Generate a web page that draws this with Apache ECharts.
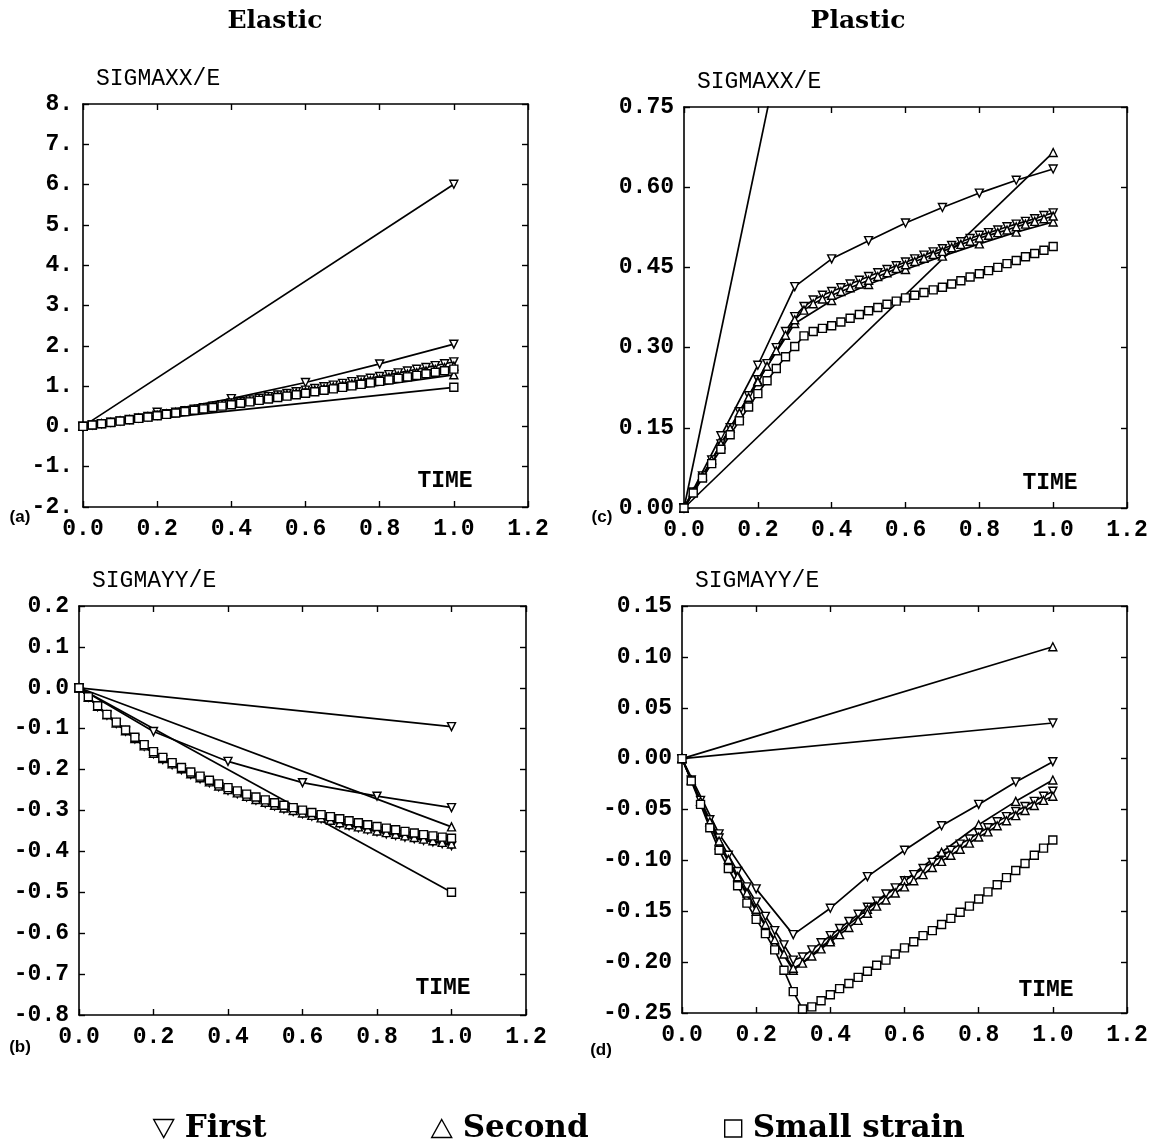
<!DOCTYPE html>
<html><head><meta charset="utf-8">
<script src="https://cdn.jsdelivr.net/npm/echarts@6/dist/echarts.min.js"></script>
<style>html,body{margin:0;padding:0;background:#fff}#c{width:1164px;height:1144px}</style>
</head><body><div id="c"></div>
<script>
// ---------- time grids (x values) ----------
const T_D = [0,0.025,0.05,0.075,0.1,0.125,0.15,0.175,0.2,0.225,0.25,0.275,0.3,0.325,0.35,0.375,0.4,0.425,0.45,0.475,0.5,0.525,0.55,0.575,0.6,0.625,0.65,0.675,0.7,0.725,0.75,0.775,0.8,0.825,0.85,0.875,0.9,0.925,0.95,0.975,1.0];
const T_01 = [0,0.1,0.2,0.3,0.4,0.5,0.6,0.7,0.8,0.9,1.0];
const T_02 = [0,0.2,0.4,0.6,0.8,1.0];
const T_1 = [0,1.0];

// ---------- tick labels ----------
const X_LABELS = ['0.0','0.2','0.4','0.6','0.8','1.0','1.2'];
const Y_LABELS_A = ['-2.','-1.','0.','1.','2.','3.','4.','5.','6.','7.','8.'];
const Y_LABELS_B = ['-0.8','-0.7','-0.6','-0.5','-0.4','-0.3','-0.2','-0.1','0.0','0.1','0.2'];
const Y_LABELS_C = ['0.00','0.15','0.30','0.45','0.60','0.75'];
const Y_LABELS_D = ['-0.25','-0.20','-0.15','-0.10','-0.05','0.00','0.05','0.10','0.15'];

// ---------- (a) Elastic SIGMAXX/E ----------
const A_FIRST_1 = [0,6.01];
const A_FIRST_02 = [0,0.35,0.69,1.09,1.55,2.04];
const A_FIRST_D = [0,0.034,0.068,0.103,0.138,0.173,0.208,0.244,0.28,0.316,0.353,0.39,0.428,0.465,0.503,0.541,0.58,0.619,0.658,0.698,0.738,0.778,0.818,0.859,0.9,0.941,0.983,1.025,1.068,1.11,1.153,1.196,1.24,1.284,1.328,1.373,1.418,1.463,1.508,1.554,1.6];
const A_SECOND_1 = [0,1.28];
const A_SECOND_D = [0,0.034,0.068,0.102,0.137,0.171,0.206,0.241,0.276,0.311,0.347,0.383,0.419,0.455,0.491,0.527,0.564,0.601,0.638,0.675,0.713,0.75,0.788,0.826,0.864,0.902,0.941,0.98,1.019,1.059,1.097,1.136,1.176,1.216,1.256,1.296,1.337,1.377,1.418,1.459,1.5];
const A_SMALL_1 = [0,0.97];
const A_SMALL_D = [0,0.033,0.065,0.098,0.131,0.164,0.198,0.231,0.265,0.299,0.333,0.367,0.401,0.435,0.47,0.504,0.539,0.574,0.609,0.645,0.68,0.716,0.751,0.787,0.823,0.859,0.896,0.932,0.969,1.006,1.043,1.08,1.117,1.154,1.192,1.229,1.267,1.305,1.343,1.382,1.42];

// ---------- (b) Elastic SIGMAYY/E ----------
const B_FIRST_1 = [0,-0.095];
const B_FIRST_02 = [0,-0.107,-0.18,-0.232,-0.265,-0.293];
const B_FIRST_D = [0,-0.023,-0.046,-0.067,-0.087,-0.106,-0.125,-0.143,-0.161,-0.175,-0.188,-0.200,-0.212,-0.222,-0.232,-0.242,-0.251,-0.259,-0.267,-0.275,-0.282,-0.289,-0.296,-0.302,-0.308,-0.314,-0.320,-0.326,-0.332,-0.337,-0.342,-0.347,-0.352,-0.357,-0.361,-0.365,-0.369,-0.373,-0.377,-0.381,-0.386];
const B_SECOND_1 = [0,-0.34];
const B_SECOND_D = [0,-0.023,-0.045,-0.066,-0.086,-0.105,-0.124,-0.142,-0.160,-0.173,-0.186,-0.198,-0.210,-0.220,-0.230,-0.240,-0.249,-0.257,-0.265,-0.273,-0.280,-0.287,-0.294,-0.300,-0.306,-0.312,-0.318,-0.324,-0.330,-0.335,-0.340,-0.345,-0.350,-0.354,-0.358,-0.362,-0.366,-0.370,-0.374,-0.378,-0.382];
const B_SMALL_1 = [0,-0.50];
const B_SMALL_D = [0,-0.022,-0.044,-0.065,-0.084,-0.103,-0.121,-0.139,-0.156,-0.170,-0.183,-0.195,-0.206,-0.216,-0.226,-0.235,-0.244,-0.252,-0.260,-0.267,-0.274,-0.281,-0.287,-0.293,-0.299,-0.305,-0.310,-0.315,-0.320,-0.325,-0.330,-0.335,-0.339,-0.343,-0.347,-0.351,-0.355,-0.359,-0.362,-0.365,-0.368];

// ---------- (c) Plastic SIGMAXX/E ----------
const C_FIRST_1 = [0,3.3];
const C_FIRST_01 = [0,0.135,0.267,0.414,0.466,0.50,0.533,0.562,0.589,0.613,0.634];
const C_FIRST_D = [0,0.03,0.06,0.09,0.12,0.15,0.18,0.21,0.24,0.27,0.30,0.33,0.358,0.377,0.389,0.398,0.405,0.412,0.419,0.426,0.433,0.440,0.446,0.453,0.460,0.466,0.473,0.479,0.485,0.491,0.498,0.504,0.510,0.515,0.520,0.526,0.531,0.536,0.541,0.547,0.552];
const C_SECOND_1 = [0,0.665];
const C_SECOND_01 = [0,0.118,0.238,0.345,0.388,0.418,0.446,0.471,0.494,0.516,0.535];
const C_SECOND_D = [0,0.03,0.06,0.09,0.12,0.149,0.178,0.207,0.236,0.265,0.294,0.323,0.352,0.370,0.382,0.391,0.398,0.405,0.412,0.419,0.426,0.433,0.440,0.448,0.455,0.461,0.467,0.474,0.480,0.487,0.493,0.499,0.505,0.510,0.515,0.520,0.526,0.531,0.536,0.541,0.546];
const C_SMALL_D = [0,0.028,0.056,0.083,0.11,0.137,0.163,0.189,0.214,0.238,0.261,0.283,0.302,0.322,0.330,0.336,0.341,0.348,0.355,0.362,0.369,0.375,0.381,0.387,0.393,0.398,0.403,0.408,0.413,0.419,0.425,0.432,0.438,0.444,0.450,0.457,0.463,0.470,0.476,0.482,0.489];

// ---------- (d) Plastic SIGMAYY/E ----------
const D_FIRST_1 = [0,0.035];
const D_FIRST_01 = [0,-0.074,-0.128,-0.173,-0.147,-0.116,-0.090,-0.066,-0.045,-0.023,-0.003];
const D_FIRST_D = [0,-0.021,-0.041,-0.06,-0.078,-0.095,-0.111,-0.126,-0.141,-0.155,-0.169,-0.183,-0.198,-0.195,-0.188,-0.181,-0.174,-0.167,-0.160,-0.153,-0.146,-0.140,-0.133,-0.127,-0.120,-0.114,-0.108,-0.102,-0.096,-0.090,-0.084,-0.079,-0.073,-0.068,-0.062,-0.057,-0.052,-0.047,-0.042,-0.037,-0.032];
const D_SECOND_1 = [0,0.11];
const D_SECOND_01 = [0,-0.085,-0.150,-0.208,-0.178,-0.148,-0.120,-0.092,-0.065,-0.042,-0.021];
const D_SECOND_D = [0,-0.021,-0.042,-0.062,-0.081,-0.099,-0.116,-0.132,-0.148,-0.163,-0.178,-0.192,-0.206,-0.201,-0.194,-0.187,-0.180,-0.173,-0.166,-0.159,-0.152,-0.145,-0.139,-0.132,-0.126,-0.120,-0.114,-0.107,-0.101,-0.095,-0.089,-0.083,-0.077,-0.072,-0.066,-0.061,-0.056,-0.051,-0.046,-0.041,-0.037];
const D_SMALL_D = [0,-0.022,-0.045,-0.068,-0.09,-0.108,-0.125,-0.142,-0.158,-0.172,-0.188,-0.208,-0.229,-0.246,-0.244,-0.238,-0.232,-0.226,-0.221,-0.215,-0.209,-0.203,-0.198,-0.192,-0.186,-0.180,-0.174,-0.169,-0.163,-0.157,-0.151,-0.145,-0.138,-0.131,-0.124,-0.117,-0.110,-0.103,-0.095,-0.088,-0.080];

// ---------- layout ----------
const GRIDS = [
  {left: 83, top: 104, width: 445, height: 403},
  {left: 79, top: 606, width: 447, height: 409},
  {left: 684, top: 107, width: 443, height: 401},
  {left: 682, top: 606, width: 445, height: 407}
];
const Y_CFG = [
  {min:-2, max:8, interval:1, labels:Y_LABELS_A, name:'SIGMAXX/E'},
  {min:-0.8, max:0.2, interval:0.1, labels:Y_LABELS_B, name:'SIGMAYY/E'},
  {min:0, max:0.75, interval:0.15, labels:Y_LABELS_C, name:'SIGMAXX/E'},
  {min:-0.25, max:0.15, interval:0.05, labels:Y_LABELS_D, name:'SIGMAYY/E'}
];

const MONO = '"Liberation Mono", "DejaVu Sans Mono", monospace';
const lineAx = {show:true, onZero:false, lineStyle:{color:'#000', width:1.6}};
const tickAx = {show:true, inside:true, length:6, lineStyle:{color:'#000', width:1.4}};

const xAxis = [], yAxis = [];
GRIDS.forEach((g, i) => {
  xAxis.push({gridIndex:i, type:'value', min:0, max:1.2, interval:0.2, position:'bottom',
    axisLine:lineAx, axisTick:tickAx, splitLine:{show:false},
    axisLabel:{show:true, showMinLabel:true, showMaxLabel:true, margin:11, color:'#000',
      fontFamily:MONO, fontSize:23, fontWeight:'bold',
      formatter:v => X_LABELS[Math.round(v/0.2)]}});
  xAxis.push({gridIndex:i, type:'value', min:0, max:1.2, interval:0.2, position:'top',
    axisLine:lineAx, axisTick:tickAx, splitLine:{show:false}, axisLabel:{show:false}});
  const c = Y_CFG[i];
  yAxis.push({gridIndex:i, type:'value', min:c.min, max:c.max, interval:c.interval, position:'left',
    axisLine:lineAx, axisTick:tickAx, splitLine:{show:false},
    name:c.name, nameLocation:'end', nameGap:14,
    nameTextStyle:{fontFamily:MONO, fontSize:23, color:'#000', align:'left', padding:[0,0,0,13]},
    axisLabel:{show:true, showMinLabel:true, showMaxLabel:true, margin:10, color:'#000',
      fontFamily:MONO, fontSize:23, fontWeight:'bold',
      formatter:v => c.labels[Math.round((v - c.min)/c.interval)]}});
  yAxis.push({gridIndex:i, type:'value', min:c.min, max:c.max, interval:c.interval, position:'right',
    axisLine:lineAx, axisTick:tickAx, splitLine:{show:false}, axisLabel:{show:false}});
});

const SYM = {
  'First': {symbol:'triangle', rotate:180},
  'Second': {symbol:'triangle', rotate:0},
  'Small strain': {symbol:'rect', rotate:0}
};
function mk(panel, name, xs, ys) {
  const s = SYM[name];
  return {
    type:'line', name:name, xAxisIndex:panel*2, yAxisIndex:panel*2,
    data: xs.map((x, k) => [x, ys[k]]),
    symbol:s.symbol, symbolRotate:s.rotate, symbolSize:8, showAllSymbol:true,
    lineStyle:{color:'#000', width:1.7},
    itemStyle:{color:'#fff', borderColor:'#000', borderWidth:1.4},
    clip:true, animation:false, silent:true
  };
}

const series = [
  mk(0,'First',T_1,A_FIRST_1), mk(0,'First',T_02,A_FIRST_02), mk(0,'First',T_D,A_FIRST_D),
  mk(0,'Second',T_1,A_SECOND_1), mk(0,'Second',T_D,A_SECOND_D),
  mk(0,'Small strain',T_1,A_SMALL_1), mk(0,'Small strain',T_D,A_SMALL_D),

  mk(1,'First',T_1,B_FIRST_1), mk(1,'First',T_02,B_FIRST_02), mk(1,'First',T_D,B_FIRST_D),
  mk(1,'Second',T_1,B_SECOND_1), mk(1,'Second',T_D,B_SECOND_D),
  mk(1,'Small strain',T_1,B_SMALL_1), mk(1,'Small strain',T_D,B_SMALL_D),

  mk(2,'First',T_1,C_FIRST_1), mk(2,'First',T_01,C_FIRST_01), mk(2,'First',T_D,C_FIRST_D),
  mk(2,'Second',T_1,C_SECOND_1), mk(2,'Second',T_01,C_SECOND_01), mk(2,'Second',T_D,C_SECOND_D),
  mk(2,'Small strain',T_D,C_SMALL_D),

  mk(3,'First',T_1,D_FIRST_1), mk(3,'First',T_01,D_FIRST_01), mk(3,'First',T_D,D_FIRST_D),
  mk(3,'Second',T_1,D_SECOND_1), mk(3,'Second',T_01,D_SECOND_01), mk(3,'Second',T_D,D_SECOND_D),
  mk(3,'Small strain',T_D,D_SMALL_D)
];

const SERIF = '"DejaVu Serif", "Liberation Serif", serif';
const legendBase = {
  orient:'horizontal', top:1108, itemWidth:20, itemHeight:18, selectedMode:false,
  itemStyle:{color:'#fff', borderColor:'#000', borderWidth:1.4},
  textStyle:{fontFamily:SERIF, fontWeight:'bold', fontSize:31, color:'#000', padding:[0,0,0,6]}
};
const legend = [
  Object.assign({}, legendBase, {left:148, data:[{name:'First', icon:'path://M0,0L20,0L10,18Z'}]}),
  Object.assign({}, legendBase, {left:426, data:[{name:'Second', icon:'path://M10,0L20,18L0,18Z'}]}),
  Object.assign({}, legendBase, {left:719, itemWidth:17, itemHeight:17, data:[{name:'Small strain', icon:'path://M0,0L17,0L17,17L0,17Z'}]})
];

function txt(x, y, t, font, align) {
  return {type:'text', x:x, y:y, silent:true,
    style:{text:t, font:font, fill:'#000', textAlign:align || 'center', textVerticalAlign:'middle'}};
}
const TIME_FONT = 'bold 23px ' + MONO;
const PANEL_FONT = 'bold 17px "Liberation Sans", Arial, sans-serif';
const graphic = [
  txt(445, 481, 'TIME', TIME_FONT), txt(443, 988, 'TIME', TIME_FONT),
  txt(1050, 483, 'TIME', TIME_FONT), txt(1046, 990, 'TIME', TIME_FONT),
  txt(20, 517, '(a)', PANEL_FONT), txt(20, 1047, '(b)', PANEL_FONT),
  txt(602, 517, '(c)', PANEL_FONT), txt(601, 1050, '(d)', PANEL_FONT)
];

const chart = echarts.init(document.getElementById('c'), null, {renderer:'canvas'});
chart.setOption({
  backgroundColor:'#fff',
  animation:false,
  title:[
    {text:'Elastic', left:270, top:4, textAlign:'center', textStyle:{fontFamily:SERIF, fontWeight:'bold', fontSize:25, color:'#000'}},
    {text:'Plastic', left:853, top:4, textAlign:'center', textStyle:{fontFamily:SERIF, fontWeight:'bold', fontSize:25, color:'#000'}}
  ],
  grid: GRIDS,
  xAxis: xAxis,
  yAxis: yAxis,
  legend: legend,
  graphic: graphic,
  series: series
});
</script>
</body></html>
